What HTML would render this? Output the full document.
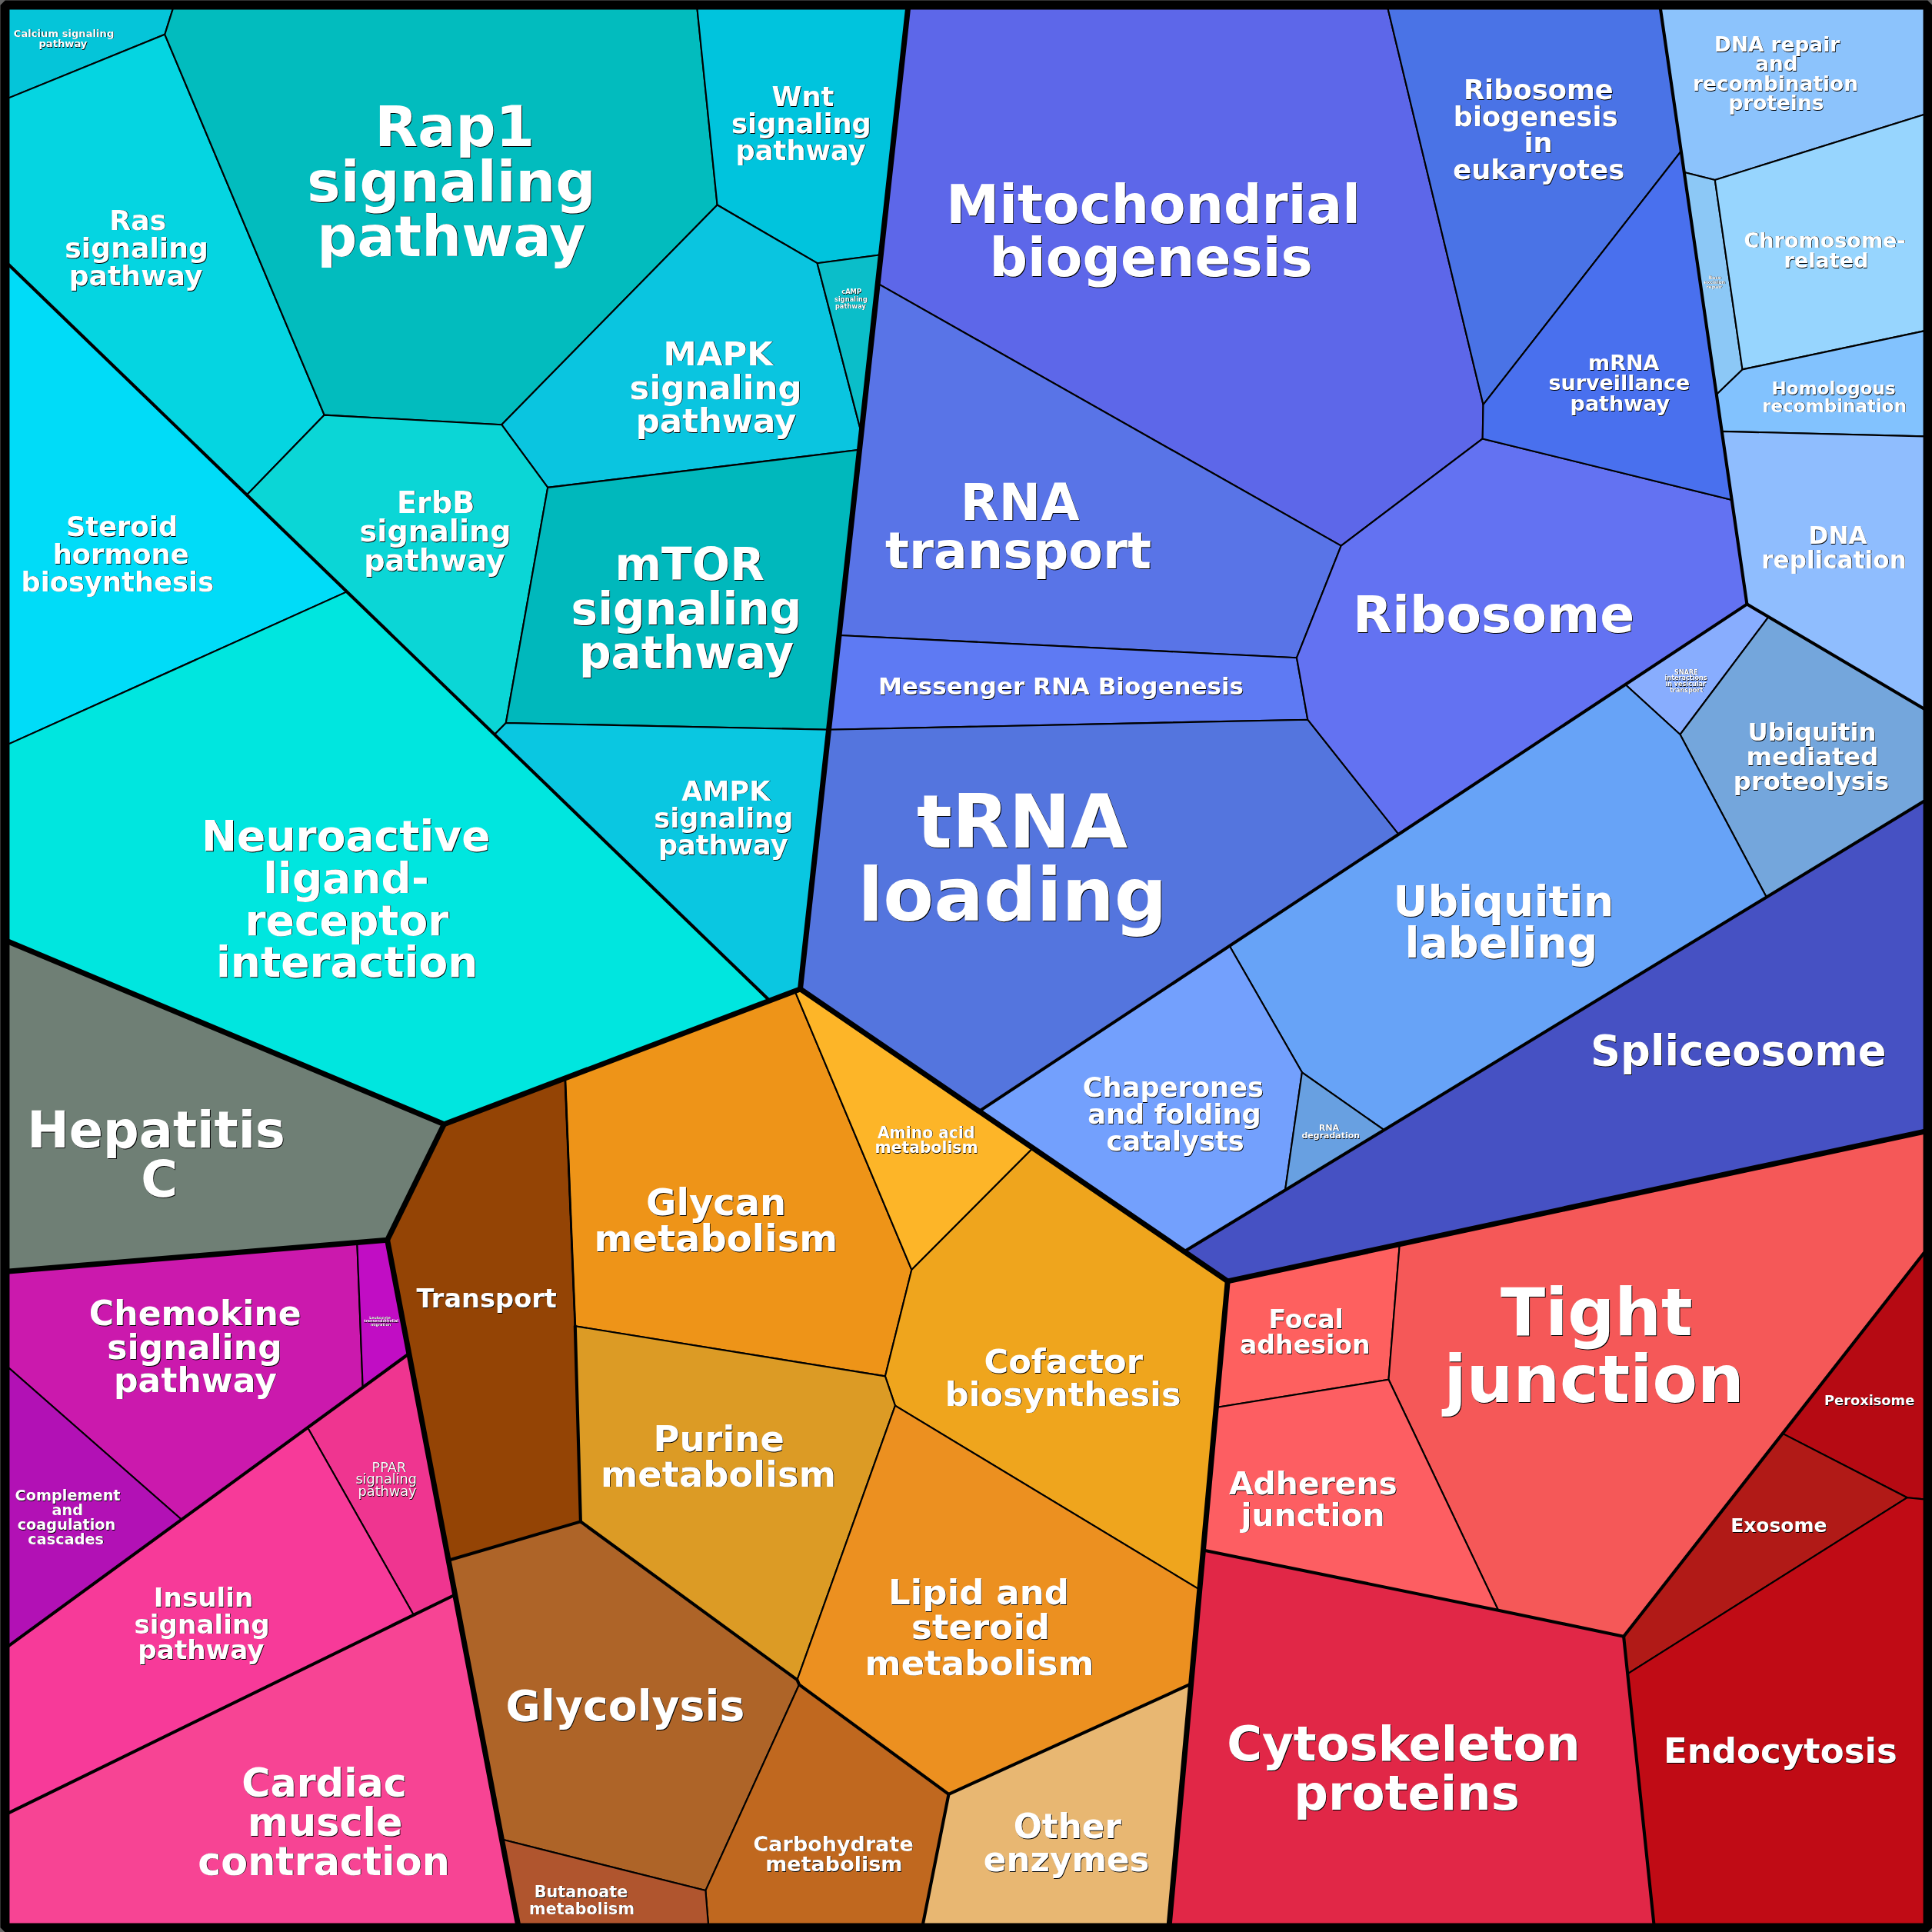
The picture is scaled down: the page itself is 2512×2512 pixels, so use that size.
<!DOCTYPE html>
<html lang="en"><head><meta charset="utf-8"><title>Proteomap</title>
<style>
html,body{margin:0;padding:0;background:#666;}
svg{display:block;will-change:transform;}
text{font-family:"DejaVu Sans","Liberation Sans",sans-serif;text-anchor:start;}
.b{font-weight:bold;}
.n{font-weight:normal;}
.sh{fill:#000;}
.fg{fill:#fff;}
</style></head><body>
<svg width="2512" height="2512" viewBox="0 0 2512 2512">
<rect x="0" y="0" width="2512" height="2512" fill="#666"/>
<rect x="8" y="8" width="2496" height="2496" fill="#000"/>
<g stroke="#000" stroke-width="2.1" stroke-linejoin="round">
<polygon fill="#05c5d9" points="11.4,11.4 224.8,11.4 214.3,44.8 11.4,127.4"/>
<polygon fill="#05d5e1" points="11.4,127.4 214.3,44.8 421.7,539.6 320.9,643.5 11.4,344.2"/>
<polygon fill="#02bcbe" points="224.8,11.4 906.5,11.4 932.6,266.5 652.2,552.2 421.7,539.6 214.3,44.8"/>
<polygon fill="#00c4dd" points="906.5,11.4 1180.5,11.4 1145.3,331.3 1062.6,342.2 932.6,266.5"/>
<polygon fill="#0ac5e0" points="932.6,266.5 1062.6,342.2 1119.9,563.0 1117.5,584.8 712.2,633.9 652.2,552.2"/>
<polygon fill="#0bbec9" points="1062.6,342.2 1145.3,331.3 1119.9,563.0"/>
<polygon fill="#0bd6d6" points="421.7,539.6 652.2,552.2 712.2,633.9 657.8,940.0 643.0,955.1 320.9,643.5"/>
<polygon fill="#00b8bc" points="712.2,633.9 1117.5,584.8 1077.5,948.7 657.8,940.0"/>
<polygon fill="#0ac7e1" points="657.8,940.0 1077.5,948.7 1040.5,1285.9 1000.7,1301.0 643.0,955.1"/>
<polygon fill="#00dcf8" points="11.4,344.2 451.0,769.4 11.4,967.4"/>
<polygon fill="#00e6df" points="11.4,967.4 451.0,769.4 1000.7,1301.0 577.4,1461.7 11.4,1224.5"/>
<polygon fill="#6f7f75" points="11.4,1224.5 577.4,1461.7 503.6,1612.2 11.4,1653.0"/>
<polygon fill="#cb19ad" points="11.4,1653.0 464.3,1615.5 471.7,1803.9 236.1,1975.8 11.4,1778.5"/>
<polygon fill="#c10dc4" points="464.3,1615.5 503.6,1612.2 531.8,1760.0 471.7,1803.9"/>
<polygon fill="#b211b5" points="11.4,1778.5 236.1,1975.8 11.4,2139.8"/>
<polygon fill="#ef3590" points="400.0,1856.2 531.8,1760.0 591.7,2073.5 537.8,2099.8"/>
<polygon fill="#f73a99" points="11.4,2139.8 400.0,1856.2 537.8,2099.8 11.4,2357.1"/>
<polygon fill="#f74494" points="11.4,2357.1 591.7,2073.5 673.4,2501.6 11.4,2501.6"/>
<polygon fill="#944405" points="577.4,1461.7 734.8,1401.9 747.8,1724.2 754.9,1978.4 583.1,2028.7 503.6,1612.2"/>
<polygon fill="#ee9418" points="734.8,1401.9 1033.5,1288.6 1185.3,1650.9 1150.9,1789.4 747.8,1724.2"/>
<polygon fill="#fdb528" points="1033.5,1288.6 1040.5,1285.9 1343.0,1492.7 1185.3,1650.9"/>
<polygon fill="#efa51d" points="1185.3,1650.9 1343.0,1492.7 1596.2,1665.8 1559.8,2066.8 1163.9,1827.7 1150.9,1789.4"/>
<polygon fill="#dc9b25" points="747.8,1724.2 1150.9,1789.4 1163.9,1827.7 1036.5,2184.2 754.9,1978.4"/>
<polygon fill="#ec9020" points="1163.9,1827.7 1559.8,2066.8 1548.6,2189.4 1233.5,2332.9 1039.1,2190.3 1036.5,2184.2"/>
<polygon fill="#e8b772" points="1233.5,2332.9 1548.6,2189.4 1520.3,2501.6 1200.0,2501.6"/>
<polygon fill="#ae6428" points="583.1,2028.7 754.9,1978.4 1036.5,2184.2 1039.1,2190.3 917.4,2458.1 652.4,2391.6"/>
<polygon fill="#c0681f" points="1039.1,2190.3 1233.5,2332.9 1200.0,2501.6 920.9,2501.6 917.4,2458.1"/>
<polygon fill="#b0552e" points="652.4,2391.6 917.4,2458.1 920.9,2501.6 673.4,2501.6"/>
<polygon fill="#5d67e9" points="1180.5,11.4 1804.6,11.4 1928.5,526.1 1927.7,570.4 1743.7,709.6 1141.2,368.7"/>
<polygon fill="#5974e7" points="1141.2,368.7 1743.7,709.6 1686.0,855.2 1091.0,826.0"/>
<polygon fill="#5e7af3" points="1091.0,826.0 1686.0,855.2 1700.3,935.7 1077.5,948.7"/>
<polygon fill="#5475de" points="1077.5,948.7 1700.3,935.7 1818.5,1084.7 1273.1,1444.9 1040.5,1285.9"/>
<polygon fill="#6372f2" points="1743.7,709.6 1927.7,570.4 2251.7,650.0 2271.4,785.6 1818.5,1084.7 1700.3,935.7 1686.0,855.2"/>
<polygon fill="#4a73e6" points="1804.6,11.4 2158.9,11.4 2185.8,196.5 1928.5,526.1"/>
<polygon fill="#4970ee" points="1928.5,526.1 2185.8,196.5 2251.7,650.0 1927.7,570.4"/>
<polygon fill="#8cc3fc" points="2158.9,11.4 2501.6,11.4 2501.6,149.1 2229.8,233.9 2189.8,223.9"/>
<polygon fill="#8cc8f6" points="2189.8,223.9 2229.8,233.9 2265.5,480.4 2231.8,513.0"/>
<polygon fill="#97d5fe" points="2229.8,233.9 2501.6,149.1 2501.6,430.4 2265.5,480.4"/>
<polygon fill="#82c2fe" points="2231.8,513.0 2265.5,480.4 2501.6,430.4 2501.6,567.4 2238.8,560.9"/>
<polygon fill="#8fbdfe" points="2238.8,560.9 2501.6,567.4 2501.5,921.6 2271.4,785.6"/>
<polygon fill="#88adfe" points="2271.4,785.6 2299.4,802.2 2184.5,955.0 2113.3,890.0"/>
<polygon fill="#74a6dc" points="2299.4,802.2 2501.5,921.6 2501.6,1041.8 2296.8,1166.5 2184.5,955.0"/>
<polygon fill="#67a3f7" points="2113.3,890.0 2184.5,955.0 2296.8,1166.5 1799.5,1469.2 1692.9,1394.3 1598.7,1229.9"/>
<polygon fill="#73a0fd" points="1273.1,1444.9 1598.7,1229.9 1692.9,1394.3 1671.0,1547.4 1539.8,1627.3"/>
<polygon fill="#68a0e1" points="1692.9,1394.3 1799.5,1469.2 1671.0,1547.4"/>
<polygon fill="#4651c3" points="1539.8,1627.3 2501.6,1041.8 2501.6,1471.3 1596.2,1665.8"/>
<polygon fill="#fe605f" points="1596.2,1665.8 1819.8,1617.8 1805.5,1793.7 1581.3,1830.0"/>
<polygon fill="#f55858" points="1819.8,1617.8 2501.6,1471.3 2501.6,1629.1 2111.1,2127.7 1948.1,2093.7 1805.5,1793.7"/>
<polygon fill="#fd5e62" points="1581.3,1830.0 1805.5,1793.7 1948.1,2093.7 1564.4,2015.5"/>
<polygon fill="#e12747" points="1564.4,2015.5 1948.1,2093.7 2111.1,2127.7 2150.4,2501.6 1520.3,2501.6"/>
<polygon fill="#b60a13" points="2501.6,1629.1 2501.6,1949.4 2479.8,1947.2 2317.7,1863.9"/>
<polygon fill="#b11a17" points="2317.7,1863.9 2479.8,1947.2 2116.2,2176.3 2111.1,2127.7"/>
<polygon fill="#c00b15" points="2116.2,2176.3 2479.8,1947.2 2501.6,1949.4 2501.6,2501.6 2150.4,2501.6"/>
</g>
<g fill="none" stroke="#000" stroke-linecap="round" stroke-linejoin="round" stroke-width="4.1">
<polyline points="11.4,344.2 1000.7,1301.0"/>
<polyline points="2158.9,11.4 2271.4,785.6"/>
<polyline points="2271.4,785.6 1273.1,1444.9"/>
<polyline points="2271.4,785.6 2501.5,921.6"/>
<polyline points="2501.6,1041.8 1539.8,1627.3"/>
<polyline points="1564.4,2015.5 1948.1,2093.7 2111.1,2127.7"/>
<polyline points="2501.6,1629.1 2111.1,2127.7"/>
<polyline points="2111.1,2127.7 2150.4,2501.6"/>
<polyline points="531.8,1760.0 11.4,2139.8"/>
<polyline points="591.7,2073.5 11.4,2357.1"/>
<polyline points="747.8,1724.2 754.9,1978.4"/>
<polyline points="583.1,2028.7 754.9,1978.4"/>
<polyline points="754.9,1978.4 1036.5,2184.2 1039.1,2190.3 1233.5,2332.9"/>
<polyline points="1233.5,2332.9 1548.6,2189.4"/>
<polyline points="1233.5,2332.9 1200.0,2501.6"/>
</g>
<polyline fill="none" stroke="#000" stroke-width="2.8" points="734.8,1401.9 747.8,1724.2"/>
<g fill="none" stroke="#000" stroke-linecap="round" stroke-linejoin="round" stroke-width="7.0">
<polyline points="1180.5,11.4 1040.5,1285.9"/>
<polyline points="1040.5,1285.9 577.4,1461.7"/>
<polyline points="11.4,1224.5 577.4,1461.7 503.6,1612.2 11.4,1653.0"/>
<polyline points="503.6,1612.2 673.4,2501.6"/>
<polyline points="1040.5,1285.9 1596.2,1665.8"/>
<polyline points="1596.2,1665.8 1520.3,2501.6"/>
<polyline points="1596.2,1665.8 2501.6,1471.3"/>
</g>
<path fill="#000" fill-rule="evenodd" d="M6.7,0.5 H2506.3 L2512.5,6.7 V2506.3 L2506.3,2512.5 H6.7 L0.5,2506.3 V6.7 Z M11.40,11.40 V2501.55 H2501.55 V11.40Z"/>
<text class="b sh" font-size="13.13"><tspan x="18.4" y="48.4">Calcium signaling</tspan><tspan x="51.0" y="61.5">pathway</tspan></text>
<text class="b fg" font-size="13.13"><tspan x="17.8" y="47.8">Calcium signaling</tspan><tspan x="50.4" y="60.9">pathway</tspan></text>
<text class="b sh" font-size="36.22"><tspan x="143.0" y="299.4">Ras</tspan><tspan x="85.0" y="335.5">signaling</tspan><tspan x="90.4" y="371.6">pathway</tspan></text>
<text class="b fg" font-size="36.22"><tspan x="142.3" y="298.7">Ras</tspan><tspan x="84.3" y="334.8">signaling</tspan><tspan x="89.7" y="370.9">pathway</tspan></text>
<text class="b sh" font-size="72.82"><tspan x="488.1" y="190.8">Rap1</tspan><tspan x="400.1" y="263.0">signaling</tspan><tspan x="413.1" y="333.4">pathway</tspan></text>
<text class="b fg" font-size="72.82"><tspan x="487.3" y="190.0">Rap1</tspan><tspan x="399.3" y="262.2">signaling</tspan><tspan x="412.3" y="332.6">pathway</tspan></text>
<text class="b sh" font-size="35.31"><tspan x="86.6" y="697.6">Steroid</tspan><tspan x="69.4" y="733.7">hormone</tspan><tspan x="28.0" y="769.4">biosynthesis</tspan></text>
<text class="b fg" font-size="35.31"><tspan x="85.9" y="697.0">Steroid</tspan><tspan x="68.7" y="733.0">hormone</tspan><tspan x="27.4" y="768.7">biosynthesis</tspan></text>
<text class="b sh" font-size="38.26"><tspan x="516.6" y="667.2">ErbB</tspan><tspan x="468.2" y="705.1">signaling</tspan><tspan x="473.9" y="742.9">pathway</tspan></text>
<text class="b fg" font-size="38.26"><tspan x="515.9" y="666.5">ErbB</tspan><tspan x="467.5" y="704.3">signaling</tspan><tspan x="473.2" y="742.2">pathway</tspan></text>
<text class="b sh" font-size="35.27"><tspan x="1004.2" y="139.1">Wnt</tspan><tspan x="951.8" y="173.7">signaling</tspan><tspan x="957.2" y="208.4">pathway</tspan></text>
<text class="b fg" font-size="35.27"><tspan x="1003.5" y="138.4">Wnt</tspan><tspan x="951.1" y="173.0">signaling</tspan><tspan x="956.5" y="207.7">pathway</tspan></text>
<text class="b sh" font-size="8.35"><tspan x="1094.8" y="383.0">cAMP</tspan><tspan x="1085.6" y="392.2">signaling</tspan><tspan x="1086.5" y="401.1">pathway</tspan></text>
<text class="b fg" font-size="8.35"><tspan x="1094.2" y="382.4">cAMP</tspan><tspan x="1085.0" y="391.6">signaling</tspan><tspan x="1085.9" y="400.5">pathway</tspan></text>
<text class="b sh" font-size="43.48"><tspan x="863.2" y="475.3">MAPK</tspan><tspan x="819.3" y="519.2">signaling</tspan><tspan x="827.4" y="562.8">pathway</tspan></text>
<text class="b fg" font-size="43.48"><tspan x="862.5" y="474.6">MAPK</tspan><tspan x="818.6" y="518.5">signaling</tspan><tspan x="826.7" y="562.1">pathway</tspan></text>
<text class="b sh" font-size="58.21"><tspan x="800.2" y="754.8">mTOR</tspan><tspan x="743.3" y="812.7">signaling</tspan><tspan x="753.7" y="870.0">pathway</tspan></text>
<text class="b fg" font-size="58.21"><tspan x="799.4" y="754.0">mTOR</tspan><tspan x="742.5" y="811.9">signaling</tspan><tspan x="752.9" y="869.2">pathway</tspan></text>
<text class="b sh" font-size="35.15"><tspan x="887.0" y="1041.2">AMPK</tspan><tspan x="851.0" y="1076.7">signaling</tspan><tspan x="856.5" y="1111.6">pathway</tspan></text>
<text class="b fg" font-size="35.15"><tspan x="886.3" y="1040.5">AMPK</tspan><tspan x="850.3" y="1076.0">signaling</tspan><tspan x="855.9" y="1110.9">pathway</tspan></text>
<text class="b sh" font-size="69.30"><tspan x="1231.0" y="290.9">Mitochondrial</tspan><tspan x="1287.4" y="359.9">biogenesis</tspan></text>
<text class="b fg" font-size="69.30"><tspan x="1230.2" y="290.1">Mitochondrial</tspan><tspan x="1286.5" y="359.1">biogenesis</tspan></text>
<text class="b sh" font-size="65.01"><tspan x="1249.6" y="676.9">RNA</tspan><tspan x="1151.7" y="740.2">transport</tspan></text>
<text class="b fg" font-size="65.01"><tspan x="1248.8" y="676.1">RNA</tspan><tspan x="1150.9" y="739.3">transport</tspan></text>
<text class="b sh" font-size="35.30"><tspan x="1903.6" y="130.0">Ribosome</tspan><tspan x="1890.4" y="164.4">biogenesis</tspan><tspan x="1982.1" y="199.1">in</tspan><tspan x="1890.0" y="233.6">eukaryotes</tspan></text>
<text class="b fg" font-size="35.30"><tspan x="1902.9" y="129.3">Ribosome</tspan><tspan x="1889.7" y="163.7">biogenesis</tspan><tspan x="1981.4" y="198.4">in</tspan><tspan x="1889.3" y="232.9">eukaryotes</tspan></text>
<text class="b sh" font-size="26.99"><tspan x="2065.7" y="481.6">mRNA</tspan><tspan x="2014.1" y="507.9">surveillance</tspan><tspan x="2042.3" y="534.9">pathway</tspan></text>
<text class="b fg" font-size="26.99"><tspan x="2065.1" y="480.9">mRNA</tspan><tspan x="2013.4" y="507.3">surveillance</tspan><tspan x="2041.6" y="534.3">pathway</tspan></text>
<text class="b sh" font-size="26.36"><tspan x="2229.8" y="67.5">DNA repair</tspan><tspan x="2282.9" y="92.8">and</tspan><tspan x="2201.5" y="118.8">recombination</tspan><tspan x="2248.0" y="144.1">proteins</tspan></text>
<text class="b fg" font-size="26.36"><tspan x="2229.1" y="66.8">DNA repair</tspan><tspan x="2282.2" y="92.1">and</tspan><tspan x="2200.9" y="118.1">recombination</tspan><tspan x="2247.4" y="143.4">proteins</tspan></text>
<text class="b sh" font-size="27.04"><tspan x="2268.2" y="322.3">Chromosome-</tspan><tspan x="2320.2" y="349.0">related</tspan></text>
<text class="b fg" font-size="27.04"><tspan x="2267.5" y="321.6">Chromosome-</tspan><tspan x="2319.6" y="348.3">related</tspan></text>
<text class="b sh" font-size="23.04"><tspan x="2304.3" y="513.6">Homologous</tspan><tspan x="2291.8" y="536.2">recombination</tspan></text>
<text class="b fg" font-size="23.04"><tspan x="2303.6" y="513.0">Homologous</tspan><tspan x="2291.2" y="535.6">recombination</tspan></text>
<text class="b sh" font-size="6.02"><tspan x="2222.3" y="363.3">Base</tspan><tspan x="2216.1" y="369.1">excision</tspan><tspan x="2219.4" y="375.1">repair</tspan></text>
<text class="b fg" font-size="6.02"><tspan x="2221.7" y="362.7">Base</tspan><tspan x="2215.5" y="368.5">excision</tspan><tspan x="2218.9" y="374.5">repair</tspan></text>
<text class="b sh" font-size="66.37"><tspan x="1759.9" y="822.7">Ribosome</tspan></text>
<text class="b fg" font-size="66.37"><tspan x="1759.1" y="821.9">Ribosome</tspan></text>
<text class="b sh" font-size="31.13"><tspan x="2352.2" y="707.8">DNA</tspan><tspan x="2290.9" y="739.4">replication</tspan></text>
<text class="b fg" font-size="31.13"><tspan x="2351.6" y="707.1">DNA</tspan><tspan x="2290.2" y="738.7">replication</tspan></text>
<text class="b sh" font-size="32.31"><tspan x="2273.2" y="964.0">Ubiquitin</tspan><tspan x="2271.1" y="996.0">mediated</tspan><tspan x="2254.5" y="1027.6">proteolysis</tspan></text>
<text class="b fg" font-size="32.31"><tspan x="2272.5" y="963.4">Ubiquitin</tspan><tspan x="2270.4" y="995.3">mediated</tspan><tspan x="2253.8" y="1026.9">proteolysis</tspan></text>
<text class="b sh" font-size="55.45"><tspan x="1812.3" y="1191.6">Ubiquitin</tspan><tspan x="1827.3" y="1246.2">labeling</tspan></text>
<text class="b fg" font-size="55.45"><tspan x="1811.6" y="1190.9">Ubiquitin</tspan><tspan x="1826.6" y="1245.4">labeling</tspan></text>
<text class="b sh" font-size="54.33"><tspan x="2068.7" y="1385.5">Spliceosome</tspan></text>
<text class="b fg" font-size="54.33"><tspan x="2067.9" y="1384.8">Spliceosome</tspan></text>
<text class="b sh" font-size="8.12"><tspan x="2177.7" y="877.3">SNARE</tspan><tspan x="2165.2" y="884.9">interactions</tspan><tspan x="2165.9" y="892.8">in vesicular</tspan><tspan x="2171.7" y="900.0">transport</tspan></text>
<text class="b fg" font-size="8.12"><tspan x="2177.1" y="876.7">SNARE</tspan><tspan x="2164.6" y="884.3">interactions</tspan><tspan x="2165.4" y="892.2">in vesicular</tspan><tspan x="2171.2" y="899.5">transport</tspan></text>
<text class="b sh" font-size="31.01"><tspan x="1142.6" y="903.5">Messenger RNA Biogenesis</tspan></text>
<text class="b fg" font-size="31.01"><tspan x="1141.9" y="902.8">Messenger RNA Biogenesis</tspan></text>
<text class="b sh" font-size="95.92"><tspan x="1193.1" y="1102.6">tRNA</tspan><tspan x="1116.4" y="1197.6">loading</tspan></text>
<text class="b fg" font-size="95.92"><tspan x="1192.1" y="1101.7">tRNA</tspan><tspan x="1115.5" y="1196.7">loading</tspan></text>
<text class="b sh" font-size="35.24"><tspan x="1408.4" y="1426.9">Chaperones</tspan><tspan x="1414.9" y="1462.1">and folding</tspan><tspan x="1439.3" y="1496.5">catalysts</tspan></text>
<text class="b fg" font-size="35.24"><tspan x="1407.7" y="1426.2">Chaperones</tspan><tspan x="1414.2" y="1461.4">and folding</tspan><tspan x="1438.6" y="1495.9">catalysts</tspan></text>
<text class="b sh" font-size="20.33"><tspan x="1141.5" y="1480.3">Amino acid</tspan><tspan x="1138.1" y="1500.0">metabolism</tspan></text>
<text class="b fg" font-size="20.33"><tspan x="1140.9" y="1479.7">Amino acid</tspan><tspan x="1137.5" y="1499.4">metabolism</tspan></text>
<text class="b sh" font-size="10.98"><tspan x="1715.6" y="1470.1">RNA</tspan><tspan x="1693.1" y="1480.6">degradation</tspan></text>
<text class="b fg" font-size="10.98"><tspan x="1715.0" y="1469.5">RNA</tspan><tspan x="1692.5" y="1480.0">degradation</tspan></text>
<text class="b sh" font-size="55.01"><tspan x="262.9" y="1106.9">Neuroactive</tspan><tspan x="343.0" y="1161.3">ligand-</tspan><tspan x="319.4" y="1216.3">receptor</tspan><tspan x="281.7" y="1270.7">interaction</tspan></text>
<text class="b fg" font-size="55.01"><tspan x="262.1" y="1106.2">Neuroactive</tspan><tspan x="342.2" y="1160.5">ligand-</tspan><tspan x="318.6" y="1215.6">receptor</tspan><tspan x="280.9" y="1269.9">interaction</tspan></text>
<text class="b sh" font-size="65.29"><tspan x="36.0" y="1492.8">Hepatitis</tspan><tspan x="184.0" y="1557.0">C</tspan></text>
<text class="b fg" font-size="65.29"><tspan x="35.2" y="1492.0">Hepatitis</tspan><tspan x="183.2" y="1556.2">C</tspan></text>
<text class="b sh" font-size="44.17"><tspan x="116.5" y="1724.1">Chemokine</tspan><tspan x="140.0" y="1767.5">signaling</tspan><tspan x="148.7" y="1810.3">pathway</tspan></text>
<text class="b fg" font-size="44.17"><tspan x="115.8" y="1723.3">Chemokine</tspan><tspan x="139.2" y="1766.8">signaling</tspan><tspan x="148.0" y="1809.6">pathway</tspan></text>
<text class="b sh" font-size="19.29"><tspan x="20.2" y="1951.5">Complement</tspan><tspan x="68.1" y="1970.3">and</tspan><tspan x="23.3" y="1989.5">coagulation</tspan><tspan x="36.9" y="2008.4">cascades</tspan></text>
<text class="b fg" font-size="19.29"><tspan x="19.5" y="1950.9">Complement</tspan><tspan x="67.5" y="1969.7">and</tspan><tspan x="22.7" y="1988.9">coagulation</tspan><tspan x="36.3" y="2007.8">cascades</tspan></text>
<text class="n sh" font-size="17.69"><tspan x="484.2" y="1914.2">PPAR</tspan><tspan x="463.0" y="1929.8">signaling</tspan><tspan x="466.2" y="1945.7">pathway</tspan></text>
<text class="n fg" font-size="17.69"><tspan x="483.6" y="1913.6">PPAR</tspan><tspan x="462.4" y="1929.1">signaling</tspan><tspan x="465.6" y="1945.1">pathway</tspan></text>
<text class="b sh" font-size="34.23"><tspan x="200.5" y="2090.0">Insulin</tspan><tspan x="175.2" y="2124.4">signaling</tspan><tspan x="180.0" y="2158.1">pathway</tspan></text>
<text class="b fg" font-size="34.23"><tspan x="199.8" y="2089.3">Insulin</tspan><tspan x="174.5" y="2123.7">signaling</tspan><tspan x="179.3" y="2157.4">pathway</tspan></text>
<text class="b sh" font-size="4.80"><tspan x="480.8" y="1715.4">Leukocyte</tspan><tspan x="473.8" y="1720.0">transendothelial</tspan><tspan x="482.5" y="1724.1">migration</tspan></text>
<text class="b fg" font-size="4.80"><tspan x="480.3" y="1714.8">Leukocyte</tspan><tspan x="473.2" y="1719.4">transendothelial</tspan><tspan x="481.9" y="1723.5">migration</tspan></text>
<text class="b sh" font-size="33.64"><tspan x="542.3" y="1701.0">Transport</tspan></text>
<text class="b fg" font-size="33.64"><tspan x="541.6" y="1700.3">Transport</tspan></text>
<text class="b sh" font-size="48.00"><tspan x="840.9" y="1580.9">Glycan</tspan><tspan x="773.3" y="1628.1">metabolism</tspan></text>
<text class="b fg" font-size="48.00"><tspan x="840.1" y="1580.1">Glycan</tspan><tspan x="772.6" y="1627.3">metabolism</tspan></text>
<text class="b sh" font-size="46.38"><tspan x="850.3" y="1888.0">Purine</tspan><tspan x="781.8" y="1933.3">metabolism</tspan></text>
<text class="b fg" font-size="46.38"><tspan x="849.6" y="1887.3">Purine</tspan><tspan x="781.0" y="1932.6">metabolism</tspan></text>
<text class="b sh" font-size="50.80"><tspan x="314.9" y="2337.2">Cardiac</tspan><tspan x="322.8" y="2387.8">muscle</tspan><tspan x="257.9" y="2438.4">contraction</tspan></text>
<text class="b fg" font-size="50.80"><tspan x="314.2" y="2336.4">Cardiac</tspan><tspan x="322.1" y="2387.0">muscle</tspan><tspan x="257.2" y="2437.7">contraction</tspan></text>
<text class="b sh" font-size="55.27"><tspan x="658.4" y="2237.5">Glycolysis</tspan></text>
<text class="b fg" font-size="55.27"><tspan x="657.6" y="2236.8">Glycolysis</tspan></text>
<text class="b sh" font-size="20.79"><tspan x="695.4" y="2467.6">Butanoate</tspan><tspan x="688.6" y="2489.3">metabolism</tspan></text>
<text class="b fg" font-size="20.79"><tspan x="694.7" y="2466.9">Butanoate</tspan><tspan x="688.0" y="2488.7">metabolism</tspan></text>
<text class="b sh" font-size="43.20"><tspan x="1280.2" y="1785.5">Cofactor</tspan><tspan x="1229.5" y="1828.3">biosynthesis</tspan></text>
<text class="b fg" font-size="43.20"><tspan x="1279.5" y="1784.8">Cofactor</tspan><tspan x="1228.8" y="1827.6">biosynthesis</tspan></text>
<text class="b sh" font-size="45.16"><tspan x="1155.8" y="2086.8">Lipid and</tspan><tspan x="1185.7" y="2132.1">steroid</tspan><tspan x="1125.3" y="2178.2">metabolism</tspan></text>
<text class="b fg" font-size="45.16"><tspan x="1155.1" y="2086.1">Lipid and</tspan><tspan x="1185.0" y="2131.4">steroid</tspan><tspan x="1124.6" y="2177.5">metabolism</tspan></text>
<text class="b sh" font-size="27.03"><tspan x="980.1" y="2407.3">Carbohydrate</tspan><tspan x="995.9" y="2433.8">metabolism</tspan></text>
<text class="b fg" font-size="27.03"><tspan x="979.5" y="2406.7">Carbohydrate</tspan><tspan x="995.2" y="2433.2">metabolism</tspan></text>
<text class="b sh" font-size="43.69"><tspan x="1318.5" y="2390.5">Other</tspan><tspan x="1279.5" y="2433.9">enzymes</tspan></text>
<text class="b fg" font-size="43.69"><tspan x="1317.7" y="2389.8">Other</tspan><tspan x="1278.8" y="2433.2">enzymes</tspan></text>
<text class="b sh" font-size="33.20"><tspan x="1650.1" y="1727.8">Focal</tspan><tspan x="1612.6" y="1760.6">adhesion</tspan></text>
<text class="b fg" font-size="33.20"><tspan x="1649.4" y="1727.1">Focal</tspan><tspan x="1611.9" y="1759.9">adhesion</tspan></text>
<text class="b sh" font-size="85.24"><tspan x="1951.9" y="1737.3">Tight</tspan><tspan x="1878.4" y="1823.8">junction</tspan></text>
<text class="b fg" font-size="85.24"><tspan x="1951.0" y="1736.4">Tight</tspan><tspan x="1877.5" y="1822.9">junction</tspan></text>
<text class="b sh" font-size="40.87"><tspan x="1598.7" y="1943.9">Adherens</tspan><tspan x="1614.3" y="1984.2">junction</tspan></text>
<text class="b fg" font-size="40.87"><tspan x="1598.0" y="1943.2">Adherens</tspan><tspan x="1613.6" y="1983.5">junction</tspan></text>
<text class="b sh" font-size="62.43"><tspan x="1596.1" y="2289.5">Cytoskeleton</tspan><tspan x="1683.1" y="2354.0">proteins</tspan></text>
<text class="b fg" font-size="62.43"><tspan x="1595.3" y="2288.7">Cytoskeleton</tspan><tspan x="1682.3" y="2353.2">proteins</tspan></text>
<text class="b sh" font-size="17.82"><tspan x="2372.6" y="1827.6">Peroxisome</tspan></text>
<text class="b fg" font-size="17.82"><tspan x="2372.0" y="1827.0">Peroxisome</tspan></text>
<text class="b sh" font-size="24.96"><tspan x="2250.9" y="1992.8">Exosome</tspan></text>
<text class="b fg" font-size="24.96"><tspan x="2250.2" y="1992.2">Exosome</tspan></text>
<text class="b sh" font-size="45.08"><tspan x="2163.6" y="2292.9">Endocytosis</tspan></text>
<text class="b fg" font-size="45.08"><tspan x="2162.9" y="2292.2">Endocytosis</tspan></text>
</svg>
</body></html>
